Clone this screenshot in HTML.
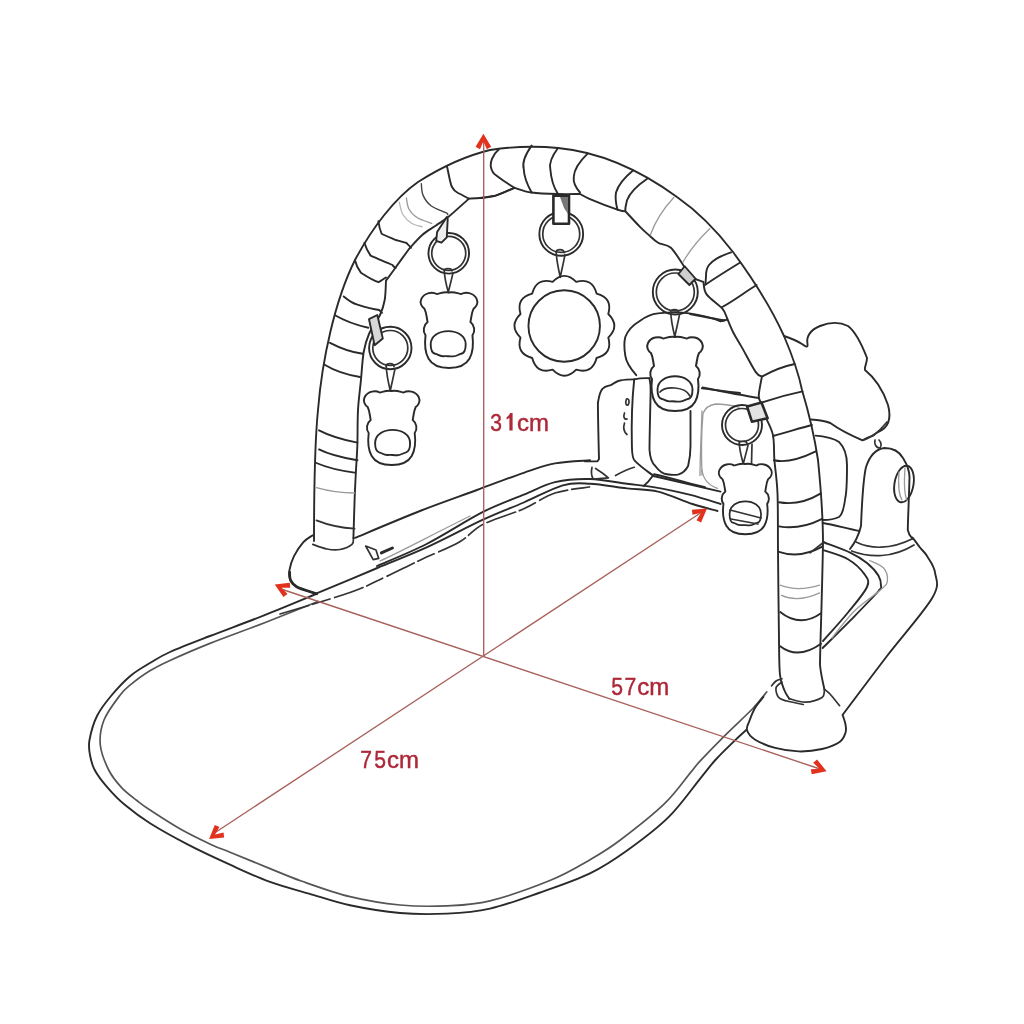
<!DOCTYPE html>
<html><head><meta charset="utf-8">
<style>
html,body{margin:0;padding:0;background:#fff;width:1024px;height:1024px;overflow:hidden}
svg{display:block;filter:blur(0.3px)}
.k{fill:none;stroke:#2a2a2a;stroke-width:1.9;stroke-linecap:round;stroke-linejoin:round}
.m{fill:none;stroke:#333;stroke-width:1.7;stroke-linecap:round;stroke-linejoin:round}
.l{fill:none;stroke:#9a9a9a;stroke-width:1.3;stroke-linecap:round;stroke-linejoin:round}
.w{fill:#fff;stroke:#2a2a2a;stroke-width:2;stroke-linejoin:round}
.r{fill:none;stroke:#a8605a;stroke-width:1.35}
.ah{fill:#e2321e}
.t{font-family:"Liberation Sans",sans-serif;fill:#ad2838;stroke:#ad2838;stroke-width:0.45;font-size:24px}
.tp{fill:#ad2838}
</style></head><body>
<svg width="1024" height="1024" viewBox="0 0 1024 1024">
<defs>
<path id="bear" d="M0,0 C-5,-1 -9,1 -12,1.5 C-16,-1 -24,0 -27,6 C-29,10 -27,14 -24,16 C-22,20 -22,24 -21,29 C-25,32 -26,38 -23,42 C-24,50 -24,58 -20,65 C-16,72 -8,74 0,74 C8,74 16,72 20,65 C24,58 24,50 23,42 C26,38 25,32 21,29 C22,24 22,20 24,16 C27,14 29,10 27,6 C24,0 16,-1 12,1.5 C9,1 5,-1 0,0 Z"/>
<path id="hole" d="M-17.5,0.5 C-17.5,-8 -9,-12.7 0,-12.7 C9,-12.7 17.5,-8 17.5,0.5 C17.5,7 16,9.5 13,10 C10,10.5 9,12.5 5,12.6 C1,12.7 -2,12 -5,12.4 C-9,12.7 -10,10.5 -13,10 C-16,9.5 -17.5,7 -17.5,0.5 Z"/>
<path id="str" d="M-4.5,-0.5 C-4.5,-4 3.5,-4 3.5,-0.5 M-4.2,-0.5 C-4,7 -2,15 -0.2,22 M4.5,1.5 C3,9 1,16 -0.2,22"/>
</defs>

<!-- ===== MAT ===== -->
<path class="k" d="M316.0,594.0 C307.3,597.6 281.7,608.4 264.0,615.4 C246.3,622.4 225.7,629.9 210.0,636.0 C194.3,642.1 180.1,647.5 170.0,652.0 C159.9,656.5 156.2,659.3 149.5,663.3 C142.8,667.3 136.4,670.8 130.0,676.2 C123.6,681.7 116.5,689.4 111.0,696.0 C105.5,702.6 100.6,708.7 97.0,716.0 C93.4,723.3 90.7,733.5 89.5,740.0 C88.3,746.5 89.1,750.0 90.0,755.0 C90.9,760.0 91.8,764.6 94.7,770.0 C97.6,775.4 102.5,781.8 107.6,787.6 C112.7,793.5 118.0,799.2 125.1,805.1 C132.2,811.0 139.3,816.6 150.0,823.3 C160.7,830.0 175.7,838.3 189.0,845.2 C202.3,852.1 216.5,858.6 230.0,864.7 C243.5,870.8 256.8,877.1 270.0,881.9 C283.2,886.7 295.7,889.7 309.0,893.6 C322.3,897.5 334.8,902.1 350.0,905.3 C365.2,908.5 383.8,911.6 400.0,913.0 C416.2,914.4 432.0,914.3 447.0,913.6 C462.0,912.9 474.7,912.0 490.0,908.6 C505.3,905.2 522.1,898.9 538.8,893.0 C555.5,887.1 575.2,880.6 590.0,873.4 C604.8,866.2 614.7,859.4 627.8,850.0 C640.9,840.6 656.8,828.8 668.8,816.9 C680.8,805.0 692.2,788.4 700.0,778.8 C707.8,769.2 709.9,766.0 715.8,759.5 C721.7,753.0 730.1,745.1 735.2,740.1 C740.3,735.1 744.7,731.4 746.6,729.6"/>
<path class="m" style="stroke:#555" d="M318.0,601.5 C309.0,605.1 282.0,616.0 264.0,623.0 C246.0,630.0 225.7,637.1 210.0,643.4 C194.3,649.6 180.1,655.9 170.0,660.5 C159.9,665.1 156.2,667.0 149.5,671.1 C142.8,675.2 134.9,681.2 130.0,685.2 C125.1,689.2 124.3,689.4 120.0,695.2 C115.7,701.0 107.3,711.7 104.0,720.0 C100.7,728.3 99.5,736.7 100.3,745.0 C101.1,753.3 105.2,762.9 108.7,770.0 C112.2,777.1 116.9,782.5 121.6,787.6 C126.3,792.7 132.2,796.8 136.9,800.5 C141.6,804.2 142.6,805.2 150.0,810.0 C157.4,814.8 170.8,823.6 181.2,829.5 C191.7,835.4 204.4,841.4 212.5,845.2 C220.6,849.0 220.4,848.3 230.0,852.2 C239.6,856.1 258.1,863.8 270.0,868.6 C281.9,873.4 287.9,876.3 301.2,881.0 C314.6,885.7 333.5,892.7 350.0,896.7 C366.5,900.7 383.8,903.5 400.0,905.0 C416.2,906.5 432.0,906.5 447.0,905.8 C462.0,905.1 472.8,905.0 490.0,900.8 C507.2,896.5 533.8,887.1 550.5,880.3 C567.2,873.5 578.4,866.5 590.0,859.8 C601.6,853.1 607.7,849.6 620.0,840.3 C632.3,831.0 652.3,815.4 664.0,804.2 C675.7,793.0 684.3,780.1 690.3,772.9 C696.3,765.7 694.4,767.2 700.0,761.2 C705.6,755.2 715.0,745.4 723.8,736.6 C732.5,727.8 745.6,716.0 752.8,708.5 C760.0,701.0 764.5,694.6 766.8,691.8"/>
<!-- mat back edge under base -->
<path class="k" d="M377.0,566.0 C385.3,562.3 408.9,553.0 426.6,544.0 C444.3,535.0 466.8,520.1 483.0,511.9 C499.2,503.7 511.8,499.6 523.8,494.7 C535.8,489.8 544.0,484.8 555.0,482.2 C566.0,479.6 578.0,478.7 590.0,479.0 C602.0,479.3 616.6,482.4 626.9,483.8 C637.2,485.1 641.5,485.1 651.9,486.9 C662.3,488.7 677.9,491.8 689.4,494.7 C700.9,497.6 715.4,502.4 720.6,504.0"/>
<path class="k" d="M316.0,593.6 C326.2,589.3 358.9,575.7 377.3,568.0 C395.7,560.3 409.0,555.4 426.6,547.4 C444.2,539.4 466.8,527.2 483.0,519.7 C499.2,512.2 510.4,508.2 523.8,502.5 C537.0,496.8 551.8,488.4 562.8,485.3 C573.8,482.2 579.3,483.2 590.0,483.8 C600.7,484.3 615.6,487.1 626.9,488.4 C638.2,489.7 647.1,489.0 658.0,491.6 C668.9,494.2 682.6,500.8 692.5,504.0 C702.4,507.2 713.3,509.8 717.5,511.0"/>
<path class="m" d="M280.0,614.0 C291.7,610.4 332.6,598.6 350.0,592.5 C367.4,586.4 372.4,583.0 384.2,577.5 C396.0,572.0 408.5,565.6 421.0,559.7 C433.5,553.8 449.1,547.9 459.4,542.0 C469.7,536.1 472.3,529.9 483.0,524.4 C493.7,518.9 511.8,514.0 523.8,508.8 C535.8,503.5 544.0,496.6 555.0,493.0 C566.0,489.4 584.2,487.9 590.0,486.9" style="stroke-dasharray:30 4 18 5"/>
<path class="l" d="M380,561 C400,552 420,541 470,516"/>

<!-- ===== LEFT FOOT + BASE ===== -->
<path class="k" d="M312.8,535.2 C311.2,536.4 306.5,538.7 303.4,542.2 C300.3,545.7 296.3,551.6 294.0,556.2 C291.7,560.9 290.1,566.5 289.4,570.3 C288.7,574.1 288.9,576.3 290.0,579.0 C291.1,581.7 291.6,584.0 296.0,586.5 C300.4,589.0 313.2,592.5 316.7,593.8"/>
<path class="k" style="stroke-width:2.7" d="M289.6,572.0 C289.8,573.3 289.3,577.5 290.5,580.0 C291.7,582.5 292.6,584.7 297.0,587.0 C301.4,589.3 313.4,592.6 316.7,593.8"/>
<path class="k" d="M355.0,537.9 C365.8,533.4 399.7,519.0 420.0,511.0 C440.3,503.0 459.7,496.4 477.0,490.0 C494.3,483.6 510.8,477.2 523.8,472.8 C536.8,468.4 544.0,465.5 555.0,463.4 C566.0,461.3 584.2,460.8 590.0,460.3"/>
<path class="m" d="M312.8,544.4 C315.1,545.2 322.4,548.1 326.9,549.0 C331.4,549.9 335.8,550.3 340.0,549.5 C344.2,548.7 349.8,546.3 352.0,544.4 C354.2,542.5 353.2,539.1 353.4,538.0"/>
<path class="m" d="M365.7,546 L376,550 L378.7,558.4 L373.2,559.7 Z"/>
<path class="k" style="stroke-width:3" d="M381.4,552.9 L392.4,548"/>

<!-- ===== ARCH ===== -->
<path class="k" d="M314,541 C314,500 315,440 318,410 C322,360 335,300 355,260 C372,228 395,198 418,182 C440,168 465,156 490,150 C510,147 530,145 558,148 C600,152 640,170 677,197 C700,213 720,235 733,252 C750,275 770,305 784,336 C795,362 800,380 802,390 C808,410 815,440 818,460 C822,500 823,530 823,543 C822,600 820,650 820,665 C821,675 823,683 824.4,689.3"/>
<path class="k" d="M353.4,538.0 C353.6,531.7 354.2,511.3 354.6,500.0 C355.0,488.7 355.5,479.3 356.0,470.0 C356.5,460.7 357.1,454.0 357.4,444.0 C357.7,434.0 357.4,420.8 358.0,410.0 C358.6,399.2 360.1,389.1 361.0,379.4 C361.9,369.7 362.4,359.6 363.7,352.0 C365.0,344.4 366.3,340.2 369.0,334.0 C371.7,327.8 377.4,320.7 380.0,315.0 C382.6,309.3 383.7,305.7 384.7,300.0 C385.7,294.3 385.8,283.8 386.0,280.6 L386.0,280.6 C387.3,278.8 390.2,275.0 394.0,269.7 C397.8,264.4 406.5,252.4 409.0,249.0 L409.0,249.0 C411.2,246.7 417.7,238.9 422.2,235.0 C426.7,231.1 431.6,228.6 436.0,225.5 C440.4,222.4 443.2,221.1 448.8,216.6 C454.2,212.1 465.6,201.6 469.0,198.6 L469.0,198.6 C470.8,198.5 475.6,198.5 480.0,198.0 C484.4,197.5 489.9,197.3 495.6,195.6 C501.3,193.9 511.3,189.1 514.4,187.8 L514.4,187.8 C517.3,188.6 524.3,191.5 531.6,192.5 C538.9,193.5 549.9,193.8 558.0,194.0 C566.1,194.2 576.3,194.0 580.0,194.0 L580.0,194.0 C581.6,194.8 583.1,196.1 589.4,198.8 C595.6,201.4 611.5,207.6 617.5,209.7 C623.5,211.8 624.0,211.0 625.3,211.2 L625.3,211.2 C627.8,213.9 636.1,222.9 640.0,226.9 C643.9,230.9 645.7,232.3 648.8,235.0 C651.8,237.7 654.5,240.7 658.1,242.8 C661.7,244.9 666.5,243.8 670.6,247.5 C674.8,251.2 680.9,261.8 683.0,264.7 L683.0,264.7 C684.2,266.6 686.6,273.1 690.0,276.0 C693.4,278.9 701.2,280.9 703.4,281.9 L703.4,281.9 C703.9,284.0 703.5,290.0 706.6,294.4 C709.7,298.8 718.8,304.5 722.2,308.4 C725.6,312.3 726.2,316.4 727.0,318.0 L727.0,318.0 C728.0,320.3 730.6,327.2 733.0,332.0 C735.4,336.8 737.8,340.2 741.6,346.9 C745.4,353.5 752.2,366.9 755.6,371.9 C759.0,376.8 760.9,375.8 761.9,376.6 L761.9,376.6 C761.4,379.7 759.0,390.8 758.8,395.0 C758.5,399.2 760.0,400.5 760.3,401.6 L760.3,401.6 C760.8,403.4 761.3,407.0 763.4,412.5 C765.5,418.0 771.0,426.5 772.8,434.4 C774.6,442.3 773.6,450.1 774.4,460.0 C775.2,469.9 776.9,478.5 777.5,493.5 C778.1,508.5 777.8,525.6 778.0,550.0 C778.2,574.4 778.7,619.2 779.0,640.0 C779.3,660.8 779.1,666.6 780.0,675.0 C780.9,683.4 783.0,686.5 784.5,690.5 C786.0,694.5 788.4,697.3 789.2,698.7"/>
<!-- top segment -->
<path class="k" d="M498.75,149.5 C492,155 490,163 491,167.5 C492,172 494,174 496,175.3 C502,180 508,184 514.4,187.8"/>
<path class="k" d="M480,198 C488,197 492,196 495.6,195.6 C504,193 509,190 514.4,187.8"/>
<!-- stripes top -->
<path class="k" d="M531.6,145.6 C525,155 522,163 523.75,169 C524,177 528,186 531.6,192.5"/>
<path class="k" d="M558,148 C552,156 549,163 550.3,169 C551,178 554,188 558,194"/>
<path class="k" d="M587.8,153.4 C579,162 574,170 573.75,176.9 C573,183 576,188 580,192.5"/>
<path class="k" d="M633,170.6 C624,178 618,186 616,192.5 C615,198 616,204 617.5,209.7"/>
<path class="k" d="M647.2,178.75 C638,185 630,192 627,200.3 C626,205 625,208 625.3,211.25"/>
<path class="l" d="M673.75,197.5 C664,208 655,222 650.3,235"/>
<path class="l" d="M709.7,228.75 C700,238 690,250 683,262"/>
<path class="k" d="M731,252.3 C720,256 712,261 709,265 C706,269 706,272 706,276 L705.5,284"/>
<path class="k" d="M739.4,263 C728,270 715,278 705,285"/>
<path class="k" d="M756.6,285 C745,292 735,300 722.2,307"/>
<!-- top-left stripes -->
<path class="k" d="M447,166.5 C449,175 450,183 452,187 C454,191 456,192 458,193 C462,195 466,197 469,198.6"/>
<path class="m" style="stroke-width:1.4;stroke:#444" d="M421.3,183.7 C421.6,185.6 421.4,191.4 423.0,195.1 C424.6,198.8 427.2,202.8 431.0,205.7 C434.8,208.6 443.1,211.2 445.9,212.7 C448.7,214.2 447.4,214.2 447.7,214.5"/>
<path class="l" d="M406.4,197.8 C406.8,199.7 407.1,205.8 409.0,209.2 C410.9,212.6 414.0,215.7 417.8,218.0 C421.6,220.3 429.5,222.4 431.8,223.3"/>
<path class="l" style="stroke:#b8b8b8" d="M399.3,202.2 C399.9,204.2 400.8,211.0 402.8,214.5 C404.9,218.0 408.4,221.2 411.6,223.3 C414.8,225.4 420.4,226.2 422.2,226.8"/>
<path class="k" d="M378.4,221.25 C379,226 380,230 381.6,233.75 C386,236 391,238 395.6,240 C400,241 403,242 406.6,243 C408,245 410,246 411,247.8"/>
<path class="k" d="M364.4,243 C366,248 368,252 370.6,255.6 C378,259 386,262 392.5,265 C393,266 394,267 395.6,268"/>
<path class="k" d="M355,260.3 C356,265 358,269 361,272.8 C366,276 372,280 378.4,282.2 C381,281 383,279 386,277.5"/>
<!-- left leg stripes -->
<path class="k" d="M343.7,296.4 C348,300 352,303 357.4,304.6 C365,307 372,309 379.2,310 L382,312.8"/>
<path class="k" d="M335.5,315.5 C345,321 356,325 368.3,327.8"/>
<path class="k" d="M330,342.8 C340,348 350,352 362.8,353.8"/>
<path class="k" d="M324.6,364.7 C335,371 348,375 360,377"/>
<path class="k" d="M319,430.3 C330,436 344,440 357.4,442.6"/>
<path class="k" d="M319,449.4 C330,455 344,458 357.4,460.3"/>
<path class="k" d="M316.4,463 C328,468 342,471 354.6,472.6"/>
<path class="l" d="M316.4,487.7 C328,491 342,493 354.6,493"/>
<path class="m" d="M316.4,520.4 C328,525 342,528 354.6,528.6"/>
<!-- right leg stripes -->
<path class="k" d="M761.9,376.6 C772,371 785,366 794.7,364"/>
<path class="k" d="M760.3,403 C775,398 790,394 802.5,391.4"/>
<path class="k" d="M773,436 C788,432 800,428 811.9,425"/>
<path class="k" d="M773.9,460.3 Q790,464 815.8,451.4"/>
<path class="k" d="M779,502.3 Q800,506 820.9,493.4"/>
<path class="k" d="M779,526.4 Q800,530 822.2,518.8"/>
<path class="k" d="M779,551.8 Q800,559 822.2,546.7"/>
<path class="l" d="M780.2,585.2 Q798,592 819.6,585.2"/>
<path class="l" d="M781.5,595.4 Q798,603 819.6,592.9"/>
<path class="k" d="M780.2,612 Q800,628 821,613.2"/>
<path class="k" d="M780.2,646.2 Q798,660 821,643.7"/>

<!-- ===== RIGHT FOOT / BASE ===== -->
<path class="k" d="M843.0,716.0 C843.4,717.4 845.1,721.7 845.5,724.5 C845.9,727.3 846.5,729.8 845.5,732.7 C844.5,735.6 843.5,739.3 839.6,742.0 C835.7,744.7 828.8,747.4 822.0,749.0 C815.2,750.6 806.4,751.6 798.6,751.4 C790.8,751.2 782.4,749.8 775.2,747.9 C768.0,746.0 759.9,742.6 755.2,739.7 C750.5,736.8 748.0,733.4 747.0,730.3 C746.0,727.2 748.1,724.7 749.4,721.0 C750.7,717.3 752.7,712.0 755.0,708.0 C757.3,704.0 762.0,698.8 763.4,697.0"/>
<path class="m" d="M789.2,698.7 C791.9,699.3 800.1,702.4 805.6,702.2 C811.1,702.0 818.9,699.6 822.0,697.5 C825.1,695.4 824.0,690.7 824.4,689.3"/>
<path class="m" d="M771.6,685.8 C772.3,685.0 774.3,682.2 776.0,681.0 C777.7,679.8 781.0,679.1 782.0,678.8"/>
<path class="m" d="M782.0,682.0 C781.0,683.0 776.5,685.4 776.0,688.0 C775.5,690.6 776.9,695.3 778.7,697.5 C780.5,699.7 782.9,699.8 787.0,701.0 C791.1,702.2 800.6,703.9 803.3,704.5"/>
<path class="m" d="M824.4,689.3 C825.3,690.1 827.5,691.3 830.0,694.0 C832.5,696.7 838.0,703.8 839.6,705.7"/>
<path class="k" d="M842.5,715.0 C849.9,705.2 872.0,675.6 887.0,656.0 C902.0,636.4 924.5,611.4 932.5,597.5 C940.5,583.6 935.9,579.4 935.0,572.5 C934.1,565.6 929.5,560.2 927.0,556.0 C924.5,551.8 922.4,550.6 920.0,547.5 C917.6,544.4 913.8,539.2 912.5,537.5"/>
<path class="k" d="M822.8,542.0 C827.4,543.8 843.2,549.3 850.6,552.8 C858.0,556.3 862.4,559.2 867.0,563.0 C871.6,566.8 876.2,571.9 878.5,575.7 C880.8,579.5 881.0,583.2 881.0,585.8 C881.0,588.3 882.9,585.9 878.5,591.0 C874.1,596.1 863.7,606.8 854.4,616.3 C845.1,625.8 828.0,642.7 822.7,648.0"/>
<path class="k" d="M824.0,550.3 C828.0,551.8 841.2,555.2 848.0,559.2 C854.8,563.2 861.4,569.8 864.6,574.4 C867.8,579.0 869.8,580.6 867.0,587.0 C864.2,593.4 855.3,603.5 848.0,612.5 C840.7,621.5 827.2,636.2 823.0,641.0"/>
<path class="l" d="M869.6,560.5 C871.9,561.8 880.6,564.6 883.6,568.0 C886.6,571.4 887.8,577.2 887.4,580.8 C887.0,584.4 886.5,584.6 881.0,589.6 C875.5,594.6 862.6,602.9 854.4,611.0 C846.2,619.1 835.7,633.5 832.0,638.0"/>
<path class="m" d="M810,552.8 L824,542"/>
<!-- right knob -->
<path class="k" d="M850,549 C854,544 858,538 861,526 C862,500 863,480 866,467 C870,455 876,449 884.4,448 C893,448 899,451 903,458 C908,466 910,474 909.4,480 C909,500 908,515 907.8,530 C909,536 912,538 912.5,538.75"/>
<ellipse class="k" cx="904" cy="484" rx="9.5" ry="18.5" transform="rotate(10 904 484)"/>
<path class="l" d="M899,472 C898,485 899,495 902,500 M905,468 C904,482 904,494 907,500"/>
<path class="m" d="M856,542 C870,549 890,550 912.5,538.75"/>
<path class="m" d="M851.6,551 C870,558 893,558 914,545"/>
<path class="m" d="M875,440 C874,444 876,448 880,448 C882,446 881,442 879,440"/>
<!-- panel behind (cloud) -->
<path class="k" d="M784,336 C790,338 796,340 802,344 C806,347 808,348 807.5,344 C806,337 810,330 820,326 C830,322 840,322 848,326 C856,332 862,345 867,358 C867,364 864,367 865,370 C875,378 883,390 888,405 C892,420 888,428 878,432 C872,436 866,440 862.5,440.3 C850,435 840,430 830.3,423 C825,421 818,420 811,419.5"/>
<path class="m" d="M862.5,440.3 C866,438 872,436 873.4,435.6 C878,432 882,428 887,422"/>
<path class="k" d="M815.6,435.6 C825,436 835,439 839,441.9 C845,448 847,455 847,465 C847,480 846,495 845.3,498 C844,508 842,515 839,517 C835,519 828,520 823,520"/>
<path class="k" d="M823,523 C835,525 848,529 859.4,531"/>
<!-- middle panel -->
<path class="k" d="M702.5,387.5 C720,391 740,395 758.75,398"/>
<path class="k" d="M690,314 C700,316 715,319 724.4,320.3"/>
<path class="l" d="M702,475 C701,450 702,425 703,413.4 C705,408 710,405 715.6,404 C722,404 730,405 739,407"/>
<path class="l" d="M702,470 C703,478 708,485 717.5,488.4"/>
<path class="k" d="M636.25,375.2 C630,368 626,362 625.3,355.6 C624,348 624,342 625.3,337 C628,330 633,325 639.4,321.25 C645,317 652,314 658,313.4 C670,312 680,312 689.4,313.4 C700,315 712,318 720.6,321.25 C724,321 726,320 726.9,319.7"/>
<path class="k" d="M634.2,379.4 C632,400 631.5,430 631.9,446.2 C632,455 633,460 635.4,461.4 C642,468 650,473 653,475.5 C650,480 646,484 643.6,486"/>
<path class="k" d="M634.2,379.4 C640,378 645,378 649.5,378.2"/>
<path class="k" d="M649.5,378.2 C651,385 650.6,390 650.6,393.4 C650,420 649.5,440 649.5,449.7 C650,458 652,463 655.3,466 C659,471 663,474 667,474.3 C672,475 676,475 678.75,474.3 C683,473 686,470 688.1,466 C690,458 690.5,452 690.5,446.2 C690.5,430 690.5,420 690.5,411"/>
<path class="k" d="M701.9,388.4 C715,390 730,392 740,393"/>
<!-- left keyboard piece -->
<path class="k" d="M597.9,402.8 C599,396 600,391 602.6,388.75 C605,386 608,386 610.8,385.2 C614,383 617,381 620,380.5 C625,379.5 630,379.4 634.2,379.4"/>
<path class="k" d="M597.9,402.8 C598,420 598.5,440 599,459 C598,461 597,461.4 596.7,461.4 L585,461.4"/>
<path class="m" d="M592,467.3 C591,472 592,477 593.2,479 C598,479 604,478 608.4,477.8 C603,473 598,470 595.5,468.4"/>
<path class="m" d="M615.5,475.5 C622,472 628,469 634.2,467.3"/>
<path class="m" d="M626.5,399 C625,403 626,406 628,405 C630,402 629,398 626.5,399 Z M624.5,413 C623,417 624.5,420 627,419 M624.5,423 C623,428 624,432 627,434.5"/>
<path class="k" d="M654,474.3 C675,479 690,484 705,487.2"/>
<path class="l" d="M702,411 C701,440 700,460 700,475.5"/>
<path class="k" d="M653.4,476 L720.6,491.6"/>

<!-- ===== TOYS ===== -->
<!-- left upper strap + ring + bear -->
<circle class="k" cx="448.75" cy="253.3" r="20.3"/>
<circle class="m" cx="448.75" cy="253.3" r="17"/>
<path class="k" d="M437.1,232 L446.8,217.1 L447.7,218.9 L446.8,237.3 L441.5,242.6 L436.2,240.8 Z" style="fill:#eee"/>
<use href="#str" class="m" transform="translate(448.5 271.5) scale(1 0.95)"/>
<use href="#bear" class="k" transform="translate(449,292.5) scale(1.02)"/>
<use href="#hole" class="k" transform="translate(448.2 343.8)"/>
<!-- left lower -->
<circle class="k" cx="390.3" cy="348" r="21.2"/>
<circle class="m" cx="390.3" cy="348" r="17.5"/>
<path class="k" d="M369,319.2 L377.3,315 L382.8,338.4 L374.6,345.2 Z" style="fill:#d8d8d8"/>
<use href="#str" class="m" transform="translate(390.5 367) scale(1 1.08)"/>
<use href="#bear" class="k" transform="translate(391.7,391)"/>
<use href="#hole" class="k" transform="translate(392.6 442.6)"/>
<!-- sun -->
<circle class="k" cx="561.25" cy="233.9" r="21.9"/>
<circle class="m" cx="561.25" cy="233.9" r="18.5"/>
<path class="k" d="M553.4,195.6 L569,195.6 L569,223.75 L553.4,223.75 Z" style="fill:#fff;stroke-width:2.6"/>
<path d="M560,197 L568,197 L568,214 L564,208 Z" fill="#777"/>
<use href="#str" class="m" transform="translate(560.5 253) scale(1 1.1)"/>
<path class="k" d="M576.2,281.9 Q592.4,277.3 596.6,293.6 Q612.9,297.8 608.3,314.0 Q620.4,325.8 608.3,337.6 Q612.9,353.8 596.6,358.0 Q592.4,374.3 576.2,369.7 Q564.4,381.8 552.6,369.7 Q536.4,374.3 532.2,358.0 Q515.9,353.8 520.5,337.6 Q508.4,325.8 520.5,314.0 Q515.9,297.8 532.2,293.6 Q536.4,277.3 552.6,281.9 Q564.4,269.8 576.2,281.9Z"/>
<circle class="k" cx="564.2" cy="326" r="35.75"/>
<!-- right upper -->
<circle class="k" cx="675.3" cy="292" r="22.5"/>
<circle class="m" cx="675.3" cy="292" r="19"/>
<path class="k" d="M684.7,266.25 L678.4,274 L689.4,285 L695.6,278.75 Z" style="fill:#cfcfcf"/>
<use href="#str" class="m" transform="translate(675 313) scale(1 1.08)"/>
<use href="#bear" class="w" transform="translate(675,337)"/>
<use href="#hole" class="k" transform="translate(675 389)"/>
<path class="m" d="M660,392 C665,386 685,386 690,396"/>
<!-- right lower -->
<path class="m" d="M752,444 L751.5,464"/>
<circle class="k" cx="742" cy="425" r="20"/>
<circle class="m" cx="742" cy="425" r="16.5"/>
<path class="k" d="M747.1,406.6 L761.5,402.5 L767.6,418.2 L751.9,421.7 Z" style="fill:#e4e4e4;stroke-width:2.6"/>
<use href="#str" class="m" transform="translate(743.5 444) scale(1 0.9)"/>
<use href="#bear" class="w" transform="translate(745.3,464) scale(0.95)"/>
<use href="#hole" class="k" transform="translate(745.3 513.4) scale(0.9 0.95)"/>
<path class="m" d="M730,510 L761,518 M731,519 L758,524"/>

<!-- ===== RED DIMENSIONS ===== -->
<path class="r" d="M483.7,141 L483.7,656"/>
<path class="r" d="M281,589 L823,770"/>
<path class="r" d="M213,834 L702,512"/>
<path class="ah" d="M0.5,0 L-12.5,7.8 L-15,3.4 L-7,0 L-15,-3.4 L-12.5,-7.8 Z" transform="translate(483.4 134.3) rotate(-90)"/>
<path class="ah" d="M0.5,0 L-12.5,7.8 L-15,3.4 L-7,0 L-15,-3.4 L-12.5,-7.8 Z" transform="translate(275.2 584.8) rotate(204)"/>
<path class="ah" d="M0.5,0 L-12.5,7.8 L-15,3.4 L-7,0 L-15,-3.4 L-12.5,-7.8 Z" transform="translate(826.1 771.1) rotate(20)"/>
<path class="ah" d="M0.5,0 L-12.5,7.8 L-15,3.4 L-7,0 L-15,-3.4 L-12.5,-7.8 Z" transform="translate(209.5 838.8) rotate(143)"/>
<path class="ah" d="M0.5,0 L-12.5,7.8 L-15,3.4 L-7,0 L-15,-3.4 L-12.5,-7.8 Z" transform="translate(706.6 508.8) rotate(-36)"/>
<text class="t" transform="translate(490.3 430.5) scale(0.88 1)">3</text><path class="tp" d="M509.4,430.5 L509.4,417.8 C508.6,418.6 507.6,419.2 506.6,419.6 L506.6,417.2 C508,416.4 509.4,414.8 510.2,413 L512.6,413 L512.6,430.5 Z"/>
<text class="t" transform="translate(517.0 430.5) scale(1.00 1)">cm</text><text class="t" transform="translate(611.3 694.7) scale(0.88 1)">5</text><text class="t" transform="translate(624.6 694.7) scale(0.88 1)">7</text><text class="t" transform="translate(637.3 694.7) scale(1.00 1)">cm</text>
<text class="t" transform="translate(360.3 767.7) scale(0.88 1)">7</text><text class="t" transform="translate(374.3 767.7) scale(0.88 1)">5</text><text class="t" transform="translate(387.0 767.7) scale(1.00 1)">cm</text>
</svg>
</body></html>
